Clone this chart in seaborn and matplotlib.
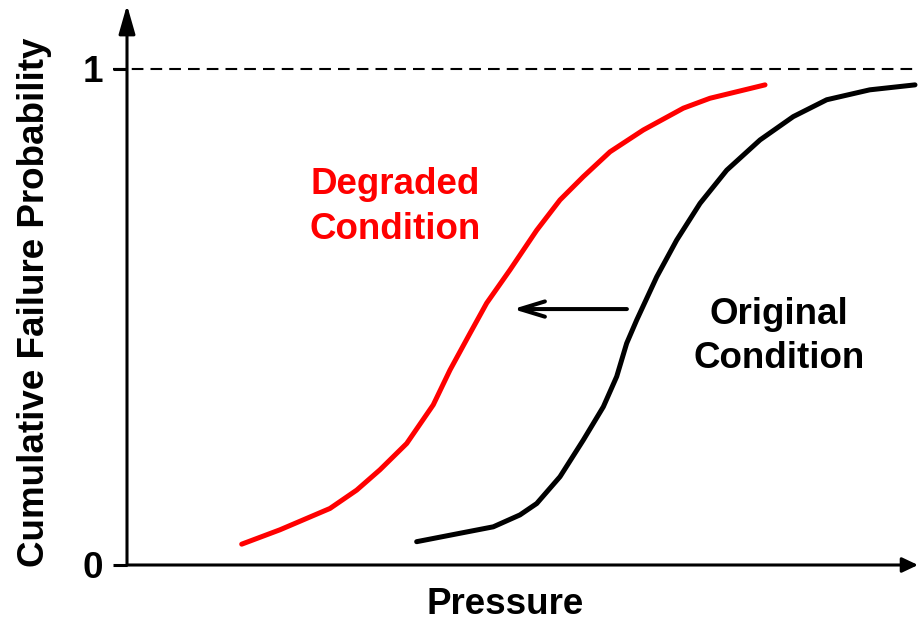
import matplotlib
matplotlib.use("Agg")
import matplotlib.pyplot as plt
import seaborn as sns
import pandas as pd

# Cumulative failure probability versus pressure (pressure in relative units 0-100)
degraded_pressure = [14.50, 19.34, 25.66, 29.04, 31.98, 35.36, 38.72, 40.83, 43.36, 45.47,
                     48.42, 51.80, 54.74, 57.69, 61.06, 65.27, 70.33, 73.70, 80.66]
degraded_prob = [0.042, 0.071, 0.114, 0.151, 0.192, 0.245, 0.323, 0.393, 0.467, 0.528,
                 0.595, 0.675, 0.736, 0.783, 0.833, 0.877, 0.921, 0.941, 0.968]

original_pressure = [36.62, 42.10, 46.31, 49.68, 51.80, 54.74, 57.69, 60.22, 61.91, 63.17,
                     64.44, 66.97, 69.49, 72.44, 75.82, 80.03, 84.23, 88.46, 93.90, 99.62]
original_prob = [0.047, 0.064, 0.077, 0.101, 0.124, 0.178, 0.252, 0.319, 0.380, 0.447,
                 0.494, 0.581, 0.655, 0.729, 0.796, 0.857, 0.904, 0.938, 0.958, 0.968]

y_ticks = [0, 1]
y_tick_labels = ["0", "1"]
shift_from = 63.2
shift_to = 48.8
shift_level = 0.516

sns.set_style("white")
plt.rcParams["font.family"] = ["Liberation Sans", "DejaVu Sans"]
plt.rcParams["font.weight"] = "bold"
plt.rcParams["text.color"] = "black"
plt.rcParams["axes.labelcolor"] = "black"
plt.rcParams["ytick.color"] = "black"
plt.rcParams["xtick.color"] = "black"

fig = plt.figure(figsize=(9.18, 6.21), dpi=100)
W, H = 918, 621
ax = fig.add_axes([127 / W, (H - 565) / H, (918 - 127) / W, (565 - 5) / H])
ax.set_xlim(0, 100)
ax.set_ylim(0, (565 - 5) / 496)

df_deg = pd.DataFrame({"Pressure": degraded_pressure, "Probability": degraded_prob})
df_org = pd.DataFrame({"Pressure": original_pressure, "Probability": original_prob})

sns.lineplot(data=df_deg, x="Pressure", y="Probability", ax=ax, color="#ff0000",
             lw=3.6, estimator=None, sort=True)
sns.lineplot(data=df_org, x="Pressure", y="Probability", ax=ax, color="black",
             lw=3.6, estimator=None, sort=True)
for ln in ax.lines:
    ln.set_solid_joinstyle("round")

# upper bound reference line at probability 1
ax.axhline(1, xmin=-14 / 791, xmax=1, color="black", lw=1.5,
           ls=(0, (5.6, 3.4)), clip_on=False)

# axes drawn as arrows
for s in ax.spines.values():
    s.set_visible(False)
ax.annotate("", xy=(0, 1), xytext=(0, 0), xycoords="axes fraction",
            arrowprops=dict(arrowstyle="-|>,head_length=1.75,head_width=0.5",
                            mutation_scale=10, lw=2.2, color="black",
                            shrinkA=0, shrinkB=0))
ax.annotate("", xy=(1, 0), xytext=(0, 0), xycoords="axes fraction",
            arrowprops=dict(arrowstyle="-|>,head_length=0.95,head_width=0.45",
                            mutation_scale=10, lw=2.2, color="black",
                            shrinkA=0, shrinkB=0))

ax.set_xticks([])
ax.set_yticks(y_ticks)
ax.set_yticklabels(y_tick_labels)
ax.tick_params(axis="y", direction="out", length=10, width=2.2, pad=7,
               labelsize=26.5, left=True, color="black", labelcolor="black")
for t in ax.get_yticklabels():
    t.set_fontweight("bold")

ax.set_xlabel("Pressure", fontsize=26.5, fontweight="bold", color="black")
ax.set_ylabel("Cumulative Failure Probability", fontsize=26.5, fontweight="bold",
              color="black")
ax.xaxis.label.set_va("center")
ax.yaxis.label.set_va("center")
ax.xaxis.set_label_coords((505 - 127) / 791, (565 - 604) / 560)
ax.yaxis.set_label_coords((35 - 127) / 791, (565 - 302) / 560)

# shift arrow from original to degraded condition
ax.annotate("", xy=(shift_to, shift_level), xytext=(shift_from, shift_level),
            arrowprops=dict(arrowstyle="->,head_length=1.8,head_width=0.55",
                            mutation_scale=10, lw=2.9, color="black",
                            shrinkA=0, shrinkB=0))

ax.text(33.9, 0.722, "Degraded\nCondition", color="#ff0000", fontsize=26.5,
        fontweight="bold", ha="center", va="center", linespacing=1.35)
ax.text(82.4, 0.461, "Original\nCondition", color="black", fontsize=26.5,
        fontweight="bold", ha="center", va="center", linespacing=1.35)

fig.savefig("out.png", dpi=100)
